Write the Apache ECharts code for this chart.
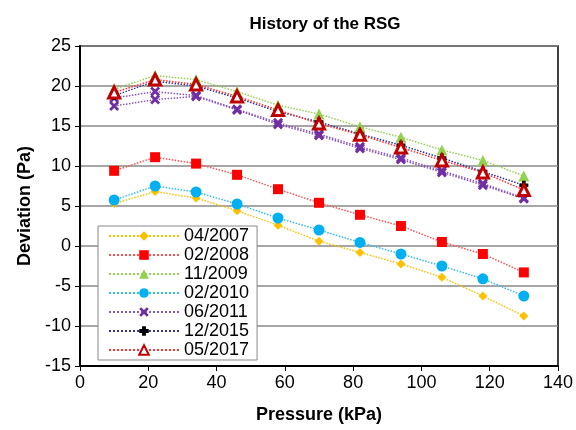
<!DOCTYPE html>
<html><head><meta charset="utf-8">
<script src="https://cdn.jsdelivr.net/npm/echarts@6/dist/echarts.min.js"></script>
<style>html,body{margin:0;padding:0;background:#fff}#c{width:576px;height:430px}</style>
</head><body><div id="c"></div>
<script>
const pressure = [10, 22, 34, 46, 58, 70, 82, 94, 106, 118, 130];
const d2007 = [5.3, 6.8, 6.0, 4.4, 2.6, 0.6, -0.8, -2.25, -3.9, -6.25, -8.75];
const d2008 = [9.4, 11.1, 10.3, 8.9, 7.1, 5.4, 3.9, 2.5, 0.5, -1.0, -3.3];
const d2009 = [19.6, 21.3, 20.8, 19.3, 17.6, 16.5, 14.9, 13.6, 12.0, 10.7, 8.75];
const d2010 = [5.75, 7.5, 6.75, 5.25, 3.5, 2.0, 0.45, -1.0, -2.5, -4.1, -6.25];
const d2011 = [17.5, 18.3, 18.7, 17.0, 15.2, 13.8, 12.2, 10.8, 9.2, 7.6, 5.9];
const d2011b = [18.5, 19.3, 18.8, 17.1, 15.4, 14.0, 12.4, 11.0, 9.4, 7.8, 6.0];
const d2015 = [18.8, 20.6, 20.0, 18.5, 16.8, 15.5, 14.0, 12.6, 11.0, 9.3, 7.6];
const d2017 = [19.2, 20.8, 20.2, 18.7, 17.0, 15.3, 13.9, 12.3, 10.7, 9.2, 7.0];
const legendNames = ['04/2007', '02/2008', '11/2009', '02/2010', '06/2011', '12/2015', '05/2017'];

const FONT = 'Liberation Sans, Arial, sans-serif';
const X_PATH = 'path://M2,0L5,3L8,0L10,2L7,5L10,8L8,10L5,7L2,10L0,8L3,5L0,2Z';
const PLUS_PATH = 'path://M3,0H7V3H10V7H7V10H3V7H0V3H3Z';

function pts(ys) { return pressure.map((x, i) => [x, ys[i]]); }
function mk(name, ys, lineColor, symbol, size, fill, border, bw) {
  return {
    name: name, type: 'line', data: pts(ys),
    symbol: symbol, symbolSize: size, showSymbol: true,
    lineStyle: { color: lineColor, width: 1.5, type: 'dotted' },
    itemStyle: { color: fill, borderColor: border || fill, borderWidth: bw || 0 },
    emphasis: { disabled: true }, animation: false, z: 3
  };
}

const series = [
  mk('04/2007', d2007, '#FFC000', 'diamond', 9, '#FFC000'),
  mk('02/2008', d2008, '#FF5050', 'rect', 10, '#FF0000'),
  mk('11/2009', d2009, '#92D050', 'triangle', 11, '#92D050'),
  mk('02/2010', d2010, '#33BBEE', 'circle', 11, '#00B0F0'),
  mk('06/2011b', d2011b, '#8855BB', X_PATH, 10, '#7030A0'),
  mk('06/2011', d2011, '#8855BB', X_PATH, 10, '#7030A0'),
  mk('12/2015', d2015, '#333399', PLUS_PATH, 9, '#000000'),
  mk('05/2017', d2017, '#FF3333', 'triangle', 11, '#FFFFFF', '#C00000', 3)
];

const chart = echarts.init(document.getElementById('c'), null, { renderer: 'canvas' });
chart.setOption({
  animation: false,
  backgroundColor: '#fff',
  title: {
    text: 'History of the RSG', left: 320, top: 11, textAlign: 'center',
    textStyle: { fontFamily: FONT, fontSize: 17, fontWeight: 'bold', color: '#000' }
  },
  grid: { left: 80, right: 17, top: 46, bottom: 64, show: true, borderColor: '#000', borderWidth: 1.5, backgroundColor: 'transparent' },
  legend: {
    data: legendNames, orient: 'vertical', left: 98, top: 226,
    backgroundColor: '#fff', borderColor: '#888', borderWidth: 1,
    padding: [1, 8, 1, 10], itemWidth: 70, itemHeight: 12, itemGap: 1,
    textStyle: { fontFamily: FONT, fontSize: 18, color: '#000', lineHeight: 18 },
    z: 10
  },
  xAxis: {
    type: 'value', min: 0, max: 140, interval: 20,
    name: 'Pressure (kPa)', nameLocation: 'middle', nameGap: 40,
    nameTextStyle: { fontFamily: FONT, fontSize: 18, fontWeight: 'bold', color: '#000' },
    axisLine: { onZero: false, lineStyle: { color: '#000', width: 2 } },
    axisTick: { show: true, length: 5, lineStyle: { color: '#000', width: 1 } },
    axisLabel: { fontFamily: FONT, fontSize: 18, color: '#000', margin: 8 },
    splitLine: { show: false }
  },
  yAxis: {
    type: 'value', min: -15, max: 25, interval: 5,
    name: 'Deviation (Pa)', nameLocation: 'middle', nameGap: 43, nameRotate: 90,
    nameTextStyle: { fontFamily: FONT, fontSize: 18, fontWeight: 'bold', color: '#000' },
    axisLine: { onZero: false, lineStyle: { color: '#000', width: 2 } },
    axisTick: { show: true, length: 5, lineStyle: { color: '#000', width: 1 } },
    axisLabel: { fontFamily: FONT, fontSize: 18, color: '#000', margin: 9 },
    splitLine: { show: true, lineStyle: { color: '#888', width: 1.5 } }
  },
  series: series
});
</script>
</body></html>
